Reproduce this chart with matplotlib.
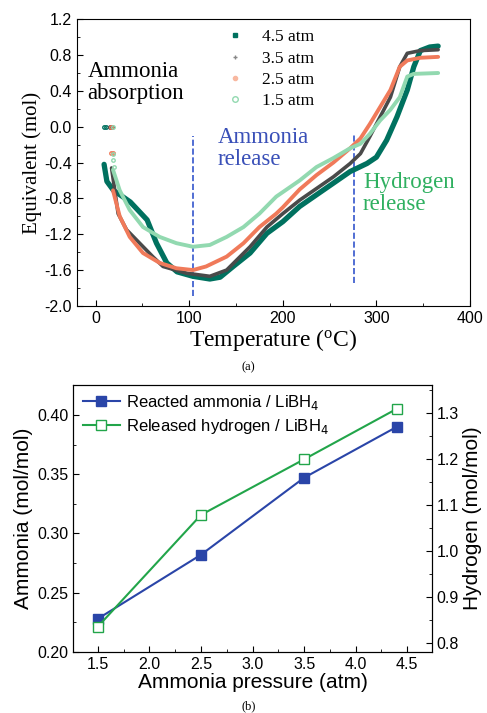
import matplotlib
matplotlib.use('Agg')
import matplotlib.pyplot as plt
from matplotlib.lines import Line2D
from matplotlib.ticker import MultipleLocator

SERIF = 'Liberation Serif'
SANS = 'Liberation Sans'
plt.rcParams['font.family'] = SANS

# ---- panel (a): equivalent vs temperature ----
t_45 = [9, 12, 19, 26, 37, 55, 65, 76, 87, 104, 122, 133, 147, 165, 183, 200, 218,
        236, 254, 272, 290, 300, 311, 322, 333, 340, 347, 357, 366]
v_45 = [-0.42, -0.61, -0.71, -0.76, -0.84, -1.04, -1.30, -1.52, -1.62, -1.67, -1.70,
        -1.68, -1.56, -1.41, -1.19, -1.06, -0.89, -0.76, -0.63, -0.50, -0.41, -0.34,
        -0.15, 0.11, 0.41, 0.67, 0.85, 0.89, 0.90]
t_35 = [17, 24, 33, 47, 61, 72, 97, 122, 140, 165, 183, 200, 218, 236, 254, 272,
        283, 293, 304, 315, 325, 333, 347, 366]
v_35 = [-0.46, -0.97, -1.15, -1.30, -1.45, -1.56, -1.635, -1.67, -1.60, -1.34, -1.12,
        -0.97, -0.82, -0.69, -0.56, -0.41, -0.30, -0.11, 0.11, 0.33, 0.67, 0.82, 0.85, 0.86]
t_25 = [18.5, 25.7, 36.4, 50.6, 68.4, 86.3, 104, 118, 140, 158, 175, 193, 200, 218,
        236, 254, 272, 283, 293, 304, 315, 325, 333, 347, 366]
v_25 = [-0.71, -1.00, -1.23, -1.41, -1.52, -1.58, -1.60, -1.56, -1.45, -1.30, -1.12,
        -0.97, -0.90, -0.70, -0.54, -0.40, -0.24, -0.13, 0.03, 0.22, 0.41, 0.67, 0.74,
        0.77, 0.78]
t_15 = [18.5, 25.7, 36.4, 50.6, 68.4, 86.3, 104, 122, 140, 158, 175, 193, 218, 236,
        254, 272, 283, 293, 304, 315, 325, 333, 340, 366]
v_15 = [-0.48, -0.71, -0.93, -1.12, -1.23, -1.30, -1.34, -1.32, -1.23, -1.12, -0.97,
        -0.78, -0.60, -0.45, -0.35, -0.24, -0.19, -0.08, 0.07, 0.19, 0.33, 0.56, 0.59, 0.60]
# isolated start-up points
t_start = [[9, 11], [15, 17], [16, 18, 16], [18, 19, 19, 20]]
v_start = [[0.0, 0.0], [0.0, 0.0], [0.0, -0.29, -0.29], [0.0, -0.30, -0.37, -0.45]]

labels_a = ['4.5 atm', '3.5 atm', '2.5 atm', '1.5 atm']
colors_a = ['#00715f', '#4a4a4a', '#f07a5a', '#92d9b0']
widths_a = [3.8, 2.6, 2.8, 2.8]
vlines_t = [104, 276]
vlines_y = [(-1.89, -0.10), (-1.75, -0.07)]

# ---- panel (b): ammonia / hydrogen vs pressure ----
pressure = [1.5, 2.5, 3.5, 4.4]
ammonia = [0.228, 0.282, 0.347, 0.390]
hydrogen = [0.835, 1.078, 1.199, 1.309]

fig = plt.figure(figsize=(4.87, 7.13), dpi=100)

ax1 = fig.add_axes([0.158, 0.571, 0.807, 0.402])
series = [(t_45, v_45), (t_35, v_35), (t_25, v_25), (t_15, v_15)]
for (t, v), ts, vs, c, w in zip(series, t_start, v_start, colors_a, widths_a):
    ax1.plot(t, v, color=c, lw=w, solid_capstyle='round', solid_joinstyle='round', zorder=3)
    ax1.plot(ts, vs, ls='none', marker='o', ms=2.5, mfc='none', mec=c, zorder=3)
for t, (y0, y1) in zip(vlines_t, vlines_y):
    ax1.plot([t, t], [y0, y1], ls='--', color='#3355cc', lw=1.2, zorder=2)

ax1.set_xlim(-20, 400)
ax1.set_ylim(-2.0, 1.2)
ax1.xaxis.set_major_locator(MultipleLocator(100))
ax1.xaxis.set_minor_locator(MultipleLocator(50))
ax1.yaxis.set_major_locator(MultipleLocator(0.4))
ax1.yaxis.set_minor_locator(MultipleLocator(0.2))
ax1.tick_params(which='both', direction='in', top=False, right=False, labelsize=11.5)
ax1.tick_params(which='major', length=4)
ax1.tick_params(which='minor', length=2)
ax1.set_yticks(ax1.get_yticks())
ax1.set_yticklabels([f'{y:.1f}' for y in ax1.get_yticks()])
ax1.set_ylim(-2.0, 1.2)
ax1.set_xlabel('Temperature ($\\mathregular{^{o}}$C)', family=SERIF, fontsize=17, labelpad=1)
ax1.set_ylabel('Equivalent (mol)', family=SERIF, fontsize=15, labelpad=2)

ax1.text(-8.5, 0.73, 'Ammonia\nabsorption', family=SERIF, fontsize=16.5, va='top',
         linespacing=1.05)
ax1.text(130.5, 0.0, 'Ammonia\nrelease', family=SERIF, fontsize=16.5, va='top',
         color='#3a50b8', linespacing=1.05)
ax1.text(285.5, -0.51, 'Hydrogen\nrelease', family=SERIF, fontsize=16.5, va='top',
         color='#2fb060', linespacing=1.05)

handles = [
    Line2D([], [], ls='none', marker='s', ms=3, color=colors_a[0]),
    Line2D([], [], ls='none', marker='+', ms=3, color='#888888'),
    Line2D([], [], ls='none', marker='o', ms=3, color='#f8b8a0'),
    Line2D([], [], ls='none', marker='o', ms=4, mfc='none', mec=colors_a[3]),
]
ax1.legend(handles, labels_a, loc='upper left', bbox_to_anchor=(0.33, 1.02),
           frameon=False, prop={'family': SERIF, 'size': 12.5}, handletextpad=0.8,
           labelspacing=0.3, handlelength=1.5)

fig.text(0.51, 0.480, '(a)', family=SERIF, fontsize=9, ha='center')

ax2 = fig.add_axes([0.150, 0.0856, 0.737, 0.374])
ax3 = ax2.twinx()
ln1, = ax2.plot(pressure, ammonia, color='#2a45a8', lw=1.5, marker='s', ms=7,
                mfc='#2a45a8', mec='#2a45a8')
ln2, = ax3.plot(pressure, hydrogen, color='#22a54a', lw=1.5, marker='s', ms=7,
                mfc='white', mec='#22a54a')
ax2.xaxis.set_major_locator(MultipleLocator(0.5))
ax2.xaxis.set_minor_locator(MultipleLocator(0.25))
ax2.yaxis.set_major_locator(MultipleLocator(0.05))
ax2.yaxis.set_minor_locator(MultipleLocator(0.025))
ax3.yaxis.set_major_locator(MultipleLocator(0.1))
ax3.yaxis.set_minor_locator(MultipleLocator(0.05))
for a in (ax2, ax3):
    a.tick_params(which='both', direction='in', labelsize=11.5)
    a.tick_params(which='major', length=4)
    a.tick_params(which='minor', length=2)
ax2.tick_params(which='both', top=False)
ax2.set_xlim(1.26, 4.74)
ax2.set_ylim(0.20, 0.425)
ax3.set_ylim(0.78, 1.36)
ax2.set_xticks(ax2.get_xticks())
ax2.set_xticklabels([f'{x:.1f}' for x in ax2.get_xticks()])
ax2.set_yticks(ax2.get_yticks())
ax2.set_yticklabels([f'{y:.2f}' for y in ax2.get_yticks()])
ax3.set_yticks(ax3.get_yticks())
ax3.set_yticklabels([f'{y:.1f}' for y in ax3.get_yticks()])
ax2.set_xlim(1.26, 4.74)
ax2.set_ylim(0.20, 0.425)
ax3.set_ylim(0.78, 1.36)
ax2.set_xlabel('Ammonia pressure (atm)', fontsize=15, labelpad=1)
ax2.set_ylabel('Ammonia (mol/mol)', fontsize=15, labelpad=3)
ax3.set_ylabel('Hydrogen (mol/mol)', fontsize=15, labelpad=3)
ax2.legend([ln1, ln2], ['Reacted ammonia / LiBH$_4$', 'Released hydrogen / LiBH$_4$'],
           loc='upper left', frameon=False, fontsize=12, borderaxespad=0.2,
           handlelength=2.2, handletextpad=0.4, labelspacing=0.3,
           bbox_to_anchor=(0.0, 1.01))

fig.text(0.51, 0.005, '(b)', family=SERIF, fontsize=9, ha='center')

fig.savefig('out.png', dpi=100)
